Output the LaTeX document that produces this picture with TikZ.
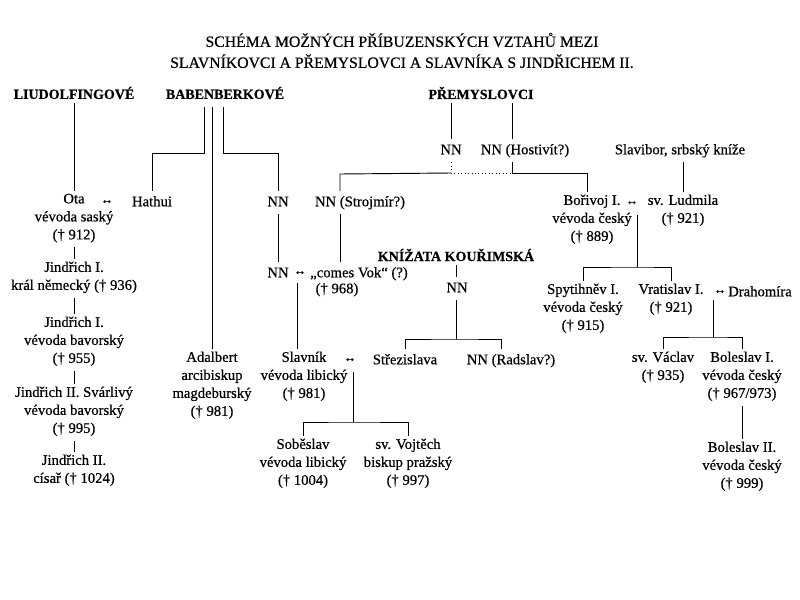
\documentclass[tikz,border=0pt]{standalone}
\usepackage{fontspec}
\setmainfont{Liberation Serif}[FakeBold=0.5]
\begin{document}
\begin{tikzpicture}[x=0.75pt,y=-0.75pt,
  pers/.style={align=center, anchor=north, yshift=8.25pt, inner sep=1.8pt,
    font=\fontsize{11}{13.5}\selectfont,
    execute at begin node=\strut, execute at end node=\strut},
  head/.style={inner sep=2.5pt, font=\fontsize{10.5}{12}\selectfont\bfseries},
  ttl/.style={align=center, inner sep=0pt, font=\fontsize{11.8}{15.75}\selectfont},
  rel/.style={inner sep=1pt, font=\fontsize{9}{10}\selectfont},
  conn/.style={line width=0.7pt}]
\useasboundingbox (0,0) rectangle (800,600);
\fill[white] (0,0) rectangle (800,600);

\node[ttl] (title) at (402,50.5) {SCHÉMA MOŽNÝCH PŘÍBUZENSKÝCH VZTAHŮ MEZI\\SLAVNÍKOVCI A PŘEMYSLOVCI A SLAVNÍKA S JINDŘICHEM II.};

\node[head] (liud) at (74,93) {LIUDOLFINGOVÉ};
\node[head] (babb) at (225,93) {BABENBERKOVÉ};
\node[head] (premysl) at (481,93) {PŘEMYSLOVCI};
\node[head] (kourim) at (456,255) {KNÍŽATA KOUŘIMSKÁ};

\node[pers] (ota) at (74,202) {Ota\\vévoda saský\\(† 912)};
\node[rel] (r1) at (107,202) {↔};
\node[pers] (hathui) at (152,202) {Hathui};
\node[pers] (nn1) at (278,202) {NN};
\node[pers] (strojmir) at (360,202) {NN (Strojmír?)};
\node[pers] (jn) at (74,270) {Jindřich I.\\král německý († 936)};
\node[pers] (jb) at (74,325) {Jindřich I.\\vévoda bavorský\\(† 955)};
\node[pers] (js) at (74,395) {Jindřich II. Svárlivý\\vévoda bavorský\\(† 995)};
\node[pers] (j2) at (74,463) {Jindřich II.\\císař († 1024)};
\node[pers] (adalbert) at (212,360) {Adalbert\\arcibiskup\\magdeburský\\(† 981)};
\node[pers] (nn2) at (278,273) {NN};
\node[rel] (r2) at (300,273) {↔};
\node[pers] (vok) at (359,273) {„comes Vok“ (?)};
\node[pers] (vokd) at (337,289) {(† 968)};
\node[pers] (slavnik) at (304,360) {Slavník\\vévoda libický\\(† 981)};
\node[rel] (r3) at (350,360) {↔};
\node[pers] (strez) at (405,360) {Střezislava};
\node[pers] (radslav) at (511,360) {NN (Radslav?)};
\node[pers] (sobeslav) at (303,447) {Soběslav\\vévoda libický\\(† 1004)};
\node[pers] (vojtech) at (408,447) {sv. Vojtěch\\biskup pražský\\(† 997)};
\node[pers] (nnk) at (457,288) {NN};
\node[pers] (nnp) at (451,150) {NN};
\node[pers] (hostivit) at (525,150) {NN (Hostivít?)};
\node[pers] (slavibor) at (680,150) {Slavibor, srbský kníže};
\node[pers] (borivoj) at (592,203) {Bořivoj I.\\vévoda český\\(† 889)};
\node[rel] (r4) at (632,203) {↔};
\node[pers] (ludmila) at (683,203) {sv. Ludmila\\(† 921)};
\node[pers] (spyt) at (583,292) {Spytihněv I.\\vévoda český\\(† 915)};
\node[pers] (vratislav) at (671,292) {Vratislav I.\\(† 921)};
\node[rel] (r5) at (720,292) {↔};
\node[pers] (drahomira) at (760,292) {Drahomíra};
\node[pers] (vaclav) at (663,360) {sv. Václav\\(† 935)};
\node[pers] (bol1) at (742,360) {Boleslav I.\\vévoda český\\(† 967/973)};
\node[pers] (bol2) at (742,450) {Boleslav II.\\vévoda český\\(† 999)};

% Liudolfingove
\draw[conn] (liud.south) -- (ota.north);
\draw[conn] (ota.south) -- (jn.north);
\draw[conn] (jn.south) -- (jb.north);
\draw[conn] (jb.south) -- (js.north);
\draw[conn] (js.south) -- (j2.north);

% Babenberkove
\coordinate (bA) at (204,107); \coordinate (bB) at (212,107); \coordinate (bC) at (223,107);
\coordinate (kA) at (204,153); \coordinate (kC) at (223,153);
\draw[conn] (bA) -- (kA) -| (hathui.north);
\draw[conn] (bB) -- (adalbert.north);
\draw[conn] (bC) -- (kC) -| (nn1.north);
\draw[conn] (nn1.south) -- (nn2.north);
\coordinate (nv) at (297,283);
\draw[conn] (nv) -- (nv |- slavnik.north);

% Premyslovci
\coordinate (sx) at (340,174);
\coordinate (jp) at (451,173); \coordinate (jh) at (512,173);
\coordinate (kb) at (587,173);
\draw[conn] (premysl.south -| nnp.north) -- (nnp.north);
\draw[conn] (premysl.south -| jh) -- (hostivit.north -| jh);
\draw[line width=0.6pt, dotted] (nnp.south) -- (jp) -- (jh);
\draw[conn] (jp) -- (sx) -- (sx |- strojmir.north);
\draw[conn] (strojmir.south -| sx) -- (vok.north -| sx);
\draw[conn] (hostivit.south -| jh) -- (jh) -- (kb) -- (kb |- borivoj.north);
\draw[conn] (slavibor.south -| ludmila.north) -- (ludmila.north);
\coordinate (bt) at (637,215); \coordinate (bl) at (637,267);
\draw[conn] (bt) -- (bl);
\draw[conn] (spyt.north) |- (bl) -| (vratislav.north);
\coordinate (vt) at (713,300); \coordinate (vj) at (713,337);
\draw[conn] (vt) -- (vj);
\draw[conn] (vaclav.north) |- (vj) -| (bol1.north);
\draw[conn] (bol1.south) -- (bol2.north);

% Slavnik
\coordinate (st) at (353,372); \coordinate (sj) at (353,422);
\draw[conn] (st) -- (sj);
\draw[conn] (sobeslav.north) |- (sj) -| (vojtech.north);

% Kourim
\coordinate (kj) at (456,339); \coordinate (rx) at (501,339);
\draw[conn] (kourim.south) -- (kourim.south |- nnk.north);
\draw[conn] (nnk.south -| kj) -- (kj);
\draw[conn] (strez.north) |- (kj) -- (rx) -- (rx |- radslav.north);
\end{tikzpicture}
\end{document}
